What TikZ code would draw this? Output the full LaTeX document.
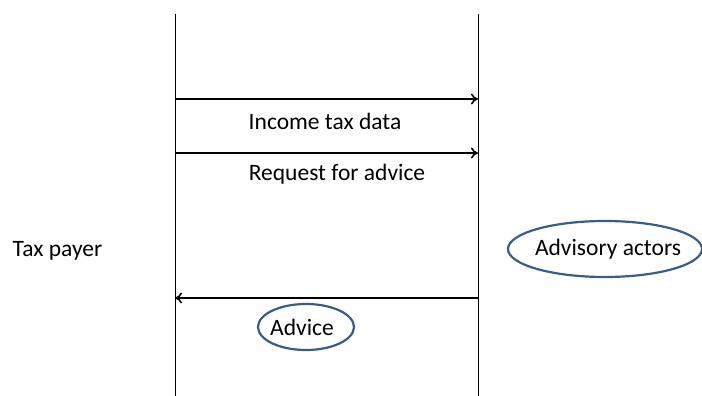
\documentclass[tikz,border=0pt]{standalone}
\usepackage{fontspec}
\setmainfont{Carlito}
\usetikzlibrary{shapes.geometric,arrows.meta}
\definecolor{ovalblue}{HTML}{385D8A}
\tikzset{
  lifeline/.style={draw=black, line width=1pt},
  msg/.style={draw=black, line width=2pt, -{To[length=7pt,width=11pt,line width=1.6pt]}},
  lbl/.style={font=\fontsize{23.5}{27}\selectfont, inner sep=0pt},
  oval/.style={ellipse, draw=ovalblue, line width=2.2pt, inner sep=0pt}
}
\begin{document}
\begin{tikzpicture}[x=1pt,y=-1pt]
\useasboundingbox (0,0) rectangle (702,396);
\coordinate (Ltop) at (175,14);
\coordinate (Lbot) at (175,396);
\coordinate (Rtop) at (478,14);
\coordinate (Rbot) at (478,396);
\draw[lifeline] (Ltop) -- (Lbot);
\draw[lifeline] (Rtop) -- (Rbot);
\coordinate (a1s) at (175,99);
\coordinate (a1e) at (478,99);
\coordinate (a2s) at (175,153);
\coordinate (a2e) at (478,153);
\coordinate (a3s) at (478,298);
\coordinate (a3e) at (175,298);
\draw[msg] (a1s) -- (a1e);
\draw[msg] (a2s) -- (a2e);
\draw[msg] (a3s) -- (a3e);
\node[lbl] (income) at (325,121) {Income tax data};
\node[lbl] (request) at (337,174) {Request for advice};
\node[lbl, anchor=west] (payer) at (12.5,251) {Tax payer};
\node[oval, minimum width=194pt, minimum height=56pt] (actors) at (605,249) {};
\node[lbl] (actorstext) at (608,249) {Advisory actors};
\node[oval, minimum width=96pt, minimum height=46pt] (advice) at (306,327) {};
\node[lbl] (advicetext) at (302,327) {Advice};
\end{tikzpicture}
\end{document}
